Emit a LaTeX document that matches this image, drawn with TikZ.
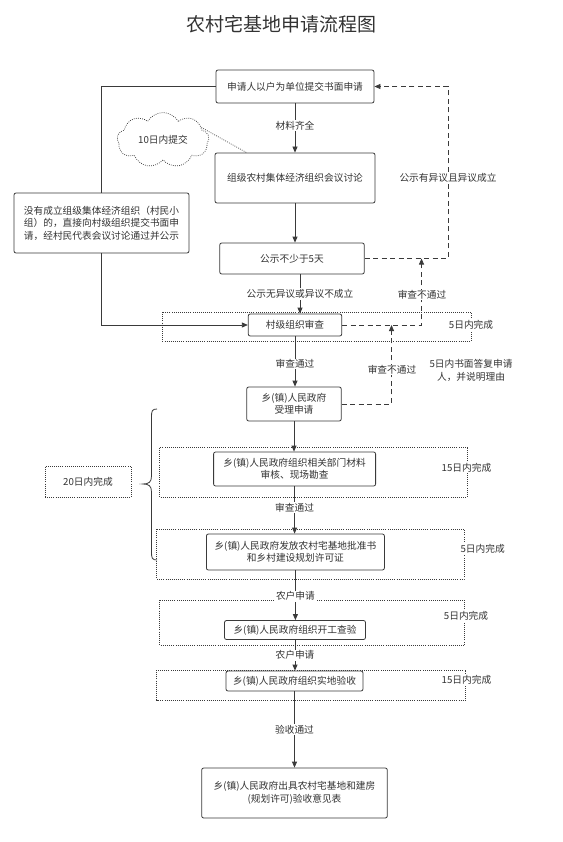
\documentclass[tikz,border=0pt]{standalone}
\usepackage{fontspec}
\setmainfont{Noto Sans CJK SC}
\usetikzlibrary{arrows.meta,shapes.symbols,calc}
\definecolor{lg}{HTML}{3A3A3A}
\definecolor{tg}{HTML}{333333}
\tikzset{
  box/.style={draw=lg, line width=0.8pt, rounded corners=2pt, fill=white, text=tg, align=center, inner sep=2pt},
  conn/.style={draw=lg, line width=0.8pt, -{Triangle[length=6pt,width=5pt]}},
  plainline/.style={draw=lg, line width=0.8pt},
  dashline/.style={draw=lg, line width=0.8pt, dash pattern=on 5pt off 3.5pt},
  dotline/.style={draw=lg, line width=0.7pt, dash pattern=on 0.8pt off 1.3pt},
  grp/.style={draw=lg, line width=0.7pt, dash pattern=on 0.8pt off 1.3pt},
  lbl/.style={fill=white, text=tg, inner sep=1pt, align=center},
  note/.style={text=tg, inner sep=1pt, align=center},
}
\begin{document}
\begin{tikzpicture}[x=1pt,y=-1pt,font=\fontsize{9.7}{12.5}\selectfont]
\useasboundingbox (0,0) rectangle (562,842);
\fill[white] (0,0) rectangle (562,842);

% title
\node[text=tg, font=\fontsize{19}{22}\selectfont] (title) at (281,24) {农村宅基地申请流程图};

% dotted groups
\draw[grp] (162,312) rectangle (471,341);
\draw[grp] (159.6,447.7) rectangle (467,497);
\draw[grp] (156.7,529) rectangle (464,579);
\draw[grp] (159.6,600) rectangle (464.7,645);
\draw[grp] (156.7,670) rectangle (465.8,700);

% boxes
\node[box, minimum width=158pt, minimum height=33pt] (b1) at (295,86.5) {申请人以户为单位提交书面申请};
\node[box, minimum width=160pt, minimum height=50pt] (b2) at (295,178) {组级农村集体经济组织会议讨论};
\node[box, minimum width=144.5pt, minimum height=31pt] (b3) at (292,258.5) {公示不少于5天};
\node[box, minimum width=93.5pt, minimum height=22pt] (b4) at (295,325) {村级组织审查};
\node[box, minimum width=94.5pt, minimum height=34pt] (b5) at (294,404) {乡(镇)人民政府\\受理申请};
\node[box, minimum width=162pt, minimum height=34pt] (b6) at (294.6,469) {乡(镇)人民政府组织相关部门材料\\审核、现场勘查};
\node[box, minimum width=178pt, minimum height=36pt] (b7) at (295.4,552) {乡(镇)人民政府发放农村宅基地批准书\\和乡村建设规划许可证};
\node[box, minimum width=141pt, minimum height=19pt] (b8) at (295,630) {乡(镇)人民政府组织开工查验};
\node[box, minimum width=137pt, minimum height=20pt] (b9) at (294.5,681) {乡(镇)人民政府组织实地验收};
\node[box, minimum width=185.6pt, minimum height=50pt] (b10) at (294.5,793) {乡(镇)人民政府出具农村宅基地和建房\\(规划许可)验收意见表};
\node[box, minimum width=175pt, minimum height=60pt, align=left] (lb) at (101.5,223) {没有成立组级集体经济组织（村民小\\组）的，直接向村级组织提交书面申\\请，经村民代表会议讨论通过并公示};

% cloud
\node[cloud, cloud puffs=9, cloud puff arc=120, aspect=1.7, draw=lg, dotline, text=tg, minimum width=92pt, minimum height=55pt, inner sep=0pt] (cl) at (163,140) {10日内提交};
\coordinate (clp) at ($(b2.north west)+(32,0)$);
\draw[dotline] (cl.18) -- (clp);

% 20 day box and brace
\node[grp, text=tg, minimum width=86pt, minimum height=31pt] (d20) at (88,481.5) {20日内完成};
\draw[plainline] (157,409) .. controls (152,409) and (151.5,411) .. (151.5,417) -- (151.5,476)
  .. controls (151.5,482) and (149,484) .. (143,484)
  .. controls (149,484) and (151.5,486) .. (151.5,492) -- (151.5,552)
  .. controls (151.5,558) and (152,560) .. (157,560);

% main connectors
\draw[conn] (b1.south) -- node[lbl, pos=0.45] (l1) {材料齐全} (b1.south |- b2.north);
\draw[conn] (b2.south) -- (b2.south |- b3.north);
\draw[conn] ([xshift=8pt]b3.south) -- node[lbl, pos=0.5] (l2) {公示无异议或异议不成立} ([xshift=5pt]b4.north);
\draw[conn] (b4.south) -- node[lbl, pos=0.55] (l3) {审查通过} (b4.south |- b5.north);
\draw[conn] (b5.south) -- (b5.south |- b6.north);
\draw[conn] (b6.south) -- node[lbl, pos=0.45] (l4) {审查通过} (b6.south |- b7.north);
\draw[conn] (b7.south) -- node[lbl, pos=0.52] (l5) {农户申请} (b7.south |- b8.north);
\draw[conn] (b8.south) -- node[lbl, pos=0.5] (l6) {农户申请} (b8.south |- b9.north);
\draw[conn] (b9.south) -- node[lbl, pos=0.5] (l7) {验收通过} (b9.south |- b10.north);

% left path
\draw[plainline] (b1.west) -| (lb.north);
\draw[conn] (lb.south) |- (b4.west);

% dashed feedback
\coordinate (c1) at (448,0);
\coordinate (c2) at (421.5,0);
\coordinate (c3) at (391.5,0);
\draw[dashline, -{Triangle[length=6pt,width=5pt]}] (b3.east) -- (b3.east -| c1) -- (b1.east -| c1) -- (b1.east);
\node[lbl] (l8) at (448,178) {公示有异议且异议成立};
\draw[dashline, -{Triangle[length=6pt,width=5pt]}] (b4.east) -- (b4.east -| c2) -- (b3.east -| c2);
\node[lbl] (l9) at (422,295) {审查不通过};
\draw[dashline, -{Triangle[length=6pt,width=5pt]}] (b5.east) -- (b5.east -| c3) -- (b4.east -| c3);
\node[lbl] (l10) at (392,370) {审查不通过};

% time notes
\node[lbl] (t1) at (471,325) {5日内完成};
\node[note] (t2) at (471,370.5) {5日内书面答复申请\\人，并说明理由};
\node[lbl] (t3) at (466.5,467.7) {15日内完成};
\node[lbl] (t4) at (482.7,549) {5日内完成};
\node[lbl] (t5) at (466,616) {5日内完成};
\node[lbl] (t6) at (466.5,680) {15日内完成};
\end{tikzpicture}
\end{document}
